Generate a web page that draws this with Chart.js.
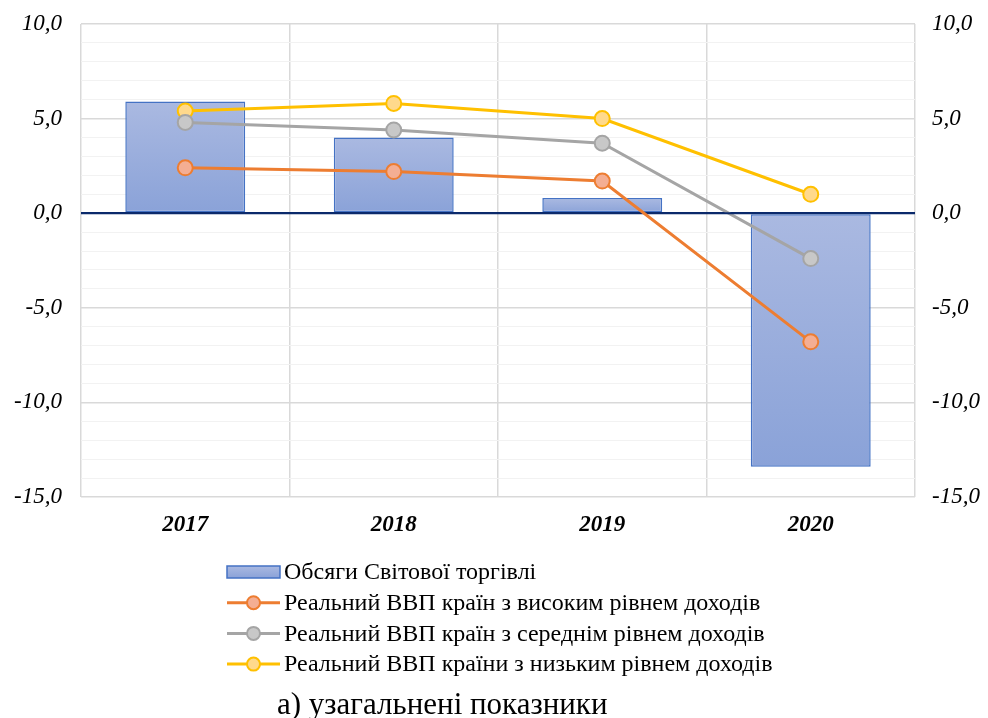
<!DOCTYPE html>
<html>
<head>
<meta charset="utf-8">
<script src="https://cdn.jsdelivr.net/npm/chart.js@4"></script>
<style>
	html, body { margin: 0; padding: 0; background: #fff; }
	#wrap { width: 988px; height: 718px; }
</style>
</head>
<body>
<div id="wrap"><canvas id="chart"></canvas></div>
<script>
const years = ['2017', '2018', '2019', '2020'];
const tradeVolume = [5.9, 4.0, 0.8, -13.4];
const gdpHigh = [2.4, 2.2, 1.7, -6.8];
const gdpMiddle = [4.8, 4.4, 3.7, -2.4];
const gdpLow = [5.4, 5.8, 5.0, 1.0];
const seriesNames = [
	'Обсяги Світової торгівлі',
	'Реальний ВВП країн з високим рівнем доходів',
	'Реальний ВВП країн з середнім рівнем доходів',
	'Реальний ВВП країни з низьким рівнем доходів',
];
const caption = 'а) узагальнені показники';
const yMin = -15, yMax = 10;

const serif = 'Liberation Serif';

function fmt(v) {
	if (v % 5 !== 0) return '';
	return v.toFixed(1).replace('.', ',');
}

function barFill(ctx) {
	let chart = ctx.chart;
	let y = chart.scales.y;
	if (!chart.chartArea || !y || ctx.raw === undefined) return '#9aafdd';
	let p0 = y.getPixelForValue(0);
	let p1 = y.getPixelForValue(ctx.raw);
	let top = Math.min(p0, p1), bot = Math.max(p0, p1);
	if (bot - top < 1) bot = top + 1;
	let g = chart.ctx.createLinearGradient(0, top, 0, bot);
	g.addColorStop(0, '#aab9e1');
	g.addColorStop(1, '#8aa2d8');
	return g;
}

function lineSet(label, data, line, fill) {
	return {
		type: 'line',
		label: label,
		data: data,
		borderColor: line,
		backgroundColor: fill,
		borderWidth: 3,
		pointRadius: 7.5,
		pointHoverRadius: 7.5,
		pointBackgroundColor: fill,
		pointBorderColor: line,
		pointBorderWidth: 2,
		fill: false,
		tension: 0,
		yAxisID: 'y',
		order: 0,
	};
}

function noPad(scale) {
	scale.paddingTop = 0;
	scale.paddingBottom = 0;
}

// zero line goes over the bars, under the lines
const zeroLine = {
	id: 'zeroLine',
	beforeDatasetDraw(chart, args) {
		if (args.index !== 1) return;
		let ctx = chart.ctx;
		let y = chart.scales.y.getPixelForValue(0);
		ctx.save();
		ctx.strokeStyle = '#0b2a6b';
		ctx.lineWidth = 2;
		ctx.beginPath();
		ctx.moveTo(chart.chartArea.left, y);
		ctx.lineTo(chart.chartArea.right, y);
		ctx.stroke();
		ctx.restore();
	}
};

const legendPlugin = {
	id: 'sideLegend',
	afterDraw(chart) {
		let ctx = chart.ctx;
		ctx.save();
		ctx.font = '24px ' + serif;
		ctx.textBaseline = 'middle';
		ctx.textAlign = 'left';
		let x0 = 227, y0 = 572, step = 30.7;
		chart.data.datasets.forEach((ds, i) => {
			let y = y0 + i * step;
			if (ds.type === 'line') {
				ctx.strokeStyle = ds.borderColor;
				ctx.lineWidth = 3;
				ctx.beginPath();
				ctx.moveTo(x0, y);
				ctx.lineTo(x0 + 53, y);
				ctx.stroke();
				ctx.beginPath();
				ctx.arc(x0 + 26.5, y, 6.5, 0, Math.PI * 2);
				ctx.fillStyle = ds.pointBackgroundColor;
				ctx.fill();
				ctx.lineWidth = 2;
				ctx.stroke();
			} else {
				let g = ctx.createLinearGradient(0, y - 6, 0, y + 6);
				g.addColorStop(0, '#aab9e1');
				g.addColorStop(1, '#8aa2d8');
				ctx.fillStyle = g;
				ctx.fillRect(x0, y - 6, 53, 12);
				ctx.strokeStyle = '#4472c4';
				ctx.lineWidth = 1.5;
				ctx.strokeRect(x0, y - 6, 53, 12);
			}
			ctx.fillStyle = '#000';
			ctx.fillText(ds.label, x0 + 57, y + 1);
		});
		ctx.font = '31px ' + serif;
		ctx.fillText(caption, 277, 706);
		ctx.restore();
	}
};

new Chart(document.getElementById('chart'), {
	type: 'bar',
	data: {
		labels: years,
		datasets: [
			{
				type: 'bar',
				label: seriesNames[0],
				data: tradeVolume,
				backgroundColor: barFill,
				borderColor: '#4472c4',
				borderWidth: 1.5,
				borderSkipped: false,
				categoryPercentage: 1,
				barPercentage: 0.575,
				yAxisID: 'y',
				order: 1,
			},
			lineSet(seriesNames[1], gdpHigh, '#ed7d31', '#f4ae93'),
			lineSet(seriesNames[2], gdpMiddle, '#a5a5a5', '#c8c8c8'),
			lineSet(seriesNames[3], gdpLow, '#ffc000', '#ffd98c'),
		],
	},
	options: {
		responsive: true,
		maintainAspectRatio: false,
		animation: false,
		layout: { padding: { top: 24, left: 0, right: 0, bottom: 0 } },
		plugins: {
			legend: { display: false },
			tooltip: { enabled: false },
		},
		scales: {
			x: {
				offset: true,
				grid: { offset: true, color: '#d9d9d9', lineWidth: 1.5, drawTicks: false },
				border: { display: false },
				ticks: {
					padding: 14,
					color: '#000',
					font: { family: serif, size: 23, style: 'italic', weight: 'bold' },
				},
				afterFit(scale) {
					scale.height = 221;
					scale.paddingLeft = 0;
					scale.paddingRight = 0;
				},
			},
			y: {
				position: 'left',
				min: yMin,
				max: yMax,
				border: { display: false },
				grid: {
					drawTicks: false,
					color(c) {
						let v = c.tick.value;
						if (v === 0) return '#0b2a6b';
						return (v % 5 === 0) ? '#d9d9d9' : '#f2f2f2';
					},
					lineWidth(c) {
						let v = c.tick.value;
						if (v === 0) return 2;
						return (v % 5 === 0) ? 1.5 : 1;
					},
				},
				ticks: {
					stepSize: 1,
					autoSkip: false,
					padding: 19,
					color: '#000',
					font: { family: serif, size: 23, style: 'italic' },
					callback: fmt,
				},
				afterFit(scale) { scale.width = 81; noPad(scale); },
			},
			y2: {
				position: 'right',
				min: yMin,
				max: yMax,
				border: { display: false },
				grid: { display: false, drawTicks: false },
				ticks: {
					stepSize: 1,
					autoSkip: false,
					padding: 17,
					color: '#000',
					font: { family: serif, size: 23, style: 'italic' },
					callback: fmt,
				},
				afterFit(scale) { scale.width = 73; noPad(scale); },
			},
		},
	},
	plugins: [zeroLine, legendPlugin],
});
</script>
</body>
</html>
